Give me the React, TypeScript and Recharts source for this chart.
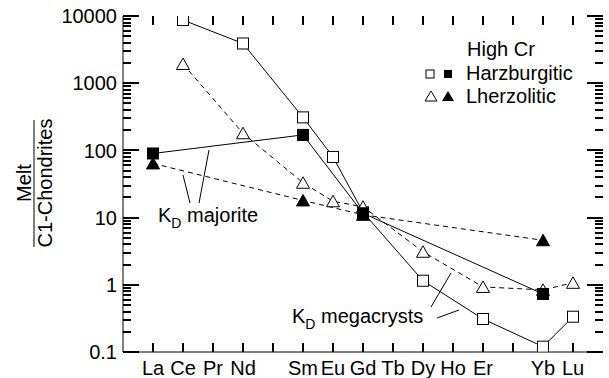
import React from 'react';
import { LineChart, Line, XAxis, YAxis, Customized } from 'recharts';

const FONT = '"Liberation Sans", Arial, Helvetica, sans-serif';

// REE order, Pm and Tm kept as empty slots
const elements = ['La', 'Ce', 'Pr', 'Nd', 'Pm', 'Sm', 'Eu', 'Gd', 'Tb', 'Dy', 'Ho', 'Er', 'Tm', 'Yb', 'Lu'];
const tickLabels = ['La', 'Ce', 'Pr', 'Nd', '', 'Sm', 'Eu', 'Gd', 'Tb', 'Dy', 'Ho', 'Er', '', 'Yb', 'Lu'];

// melt / C1 chondrite, null = not plotted
const harzMegacrysts = [null, 8700, null, 3900, null, 310, 80, 12, null, 1.15, null, 0.31, null, 0.12, 0.335];
const lherzMegacrysts = [null, 1930, null, 180, null, 33, 17.5, 14.5, null, 3.1, null, 0.93, null, 0.84, 1.07];
const harzMajorite = [90, null, null, null, null, 170, null, 11.6, null, null, null, null, null, 0.73, null];
const lherzMajorite = [64, null, null, null, null, 18, null, 11, null, null, null, null, null, 4.6, null];

const majorTicks = [0.1, 1, 10, 100, 1000, 10000];
const minorTicks: number[] = [];
[0.1, 1, 10, 100, 1000].forEach((d) => {
  for (let k = 2; k < 10; k++) minorTicks.push(+(d * k).toPrecision(3));
});
const xTicks = elements.map((_, i) => i);

const X_DOMAIN = [-1, 15];
const Y_DOMAIN = [0.1, 10000];
const MARGIN = { top: 16, right: 6, bottom: 0, left: 0 };
const Y_AXIS_W = 123;
const X_AXIS_H = 26;
const W = 609;
const H = 378;
const PLOT_L = MARGIN.left + Y_AXIS_W;
const PLOT_T = MARGIN.top;
const PLOT_W = W - PLOT_L - MARGIN.right;
const PLOT_H = H - PLOT_T - MARGIN.bottom - X_AXIS_H;

const data = elements.map((el, i) => ({
  x: i,
  el,
  harzOpen: harzMegacrysts[i],
  lherzOpen: lherzMegacrysts[i],
  harzFill: harzMajorite[i],
  lherzFill: lherzMajorite[i],
}));

const tickFont = { fontSize: 20, fontFamily: FONT, fill: '#000' };
const black = { stroke: '#000' };

const marker = (shape: 'sq' | 'tri', filled: boolean) => (p: any) => {
  const key = `m-${shape}-${filled}-${p.index}`;
  if (p.value == null || p.cy == null || p.cx == null) return <g key={key} />;
  const fill = filled ? '#000' : '#fff';
  if (shape === 'sq') {
    return <rect key={key} x={p.cx - 5.5} y={p.cy - 5.5} width={11} height={11} fill={fill} stroke="#000" />;
  }
  const pts = `${p.cx},${p.cy - 6} ${p.cx + 6.5},${p.cy + 5.5} ${p.cx - 6.5},${p.cy + 5.5}`;
  return <polygon key={key} points={pts} fill={fill} stroke="#000" />;
};

// same linear / log mapping as the axes, used for the inward frame ticks
const px = (v: number) => PLOT_L + ((v - X_DOMAIN[0]) / (X_DOMAIN[1] - X_DOMAIN[0])) * PLOT_W;
const py = (v: number) =>
  PLOT_T + (Math.log10(Y_DOMAIN[1] / v) / Math.log10(Y_DOMAIN[1] / Y_DOMAIN[0])) * PLOT_H;

const TICK_W = 2;

const FrameTicks = () => {
  const R = PLOT_L + PLOT_W;
  const B = PLOT_T + PLOT_H;
  return (
    <g>
      {majorTicks.concat(minorTicks).map((v) => {
        const len = majorTicks.includes(v) ? 16 : 8;
        const y = Math.round(py(v));
        return (
          <g key={`y-${v}`}>
            <path d={`M${PLOT_L},${y}H${PLOT_L + len}`} stroke="#000" strokeWidth={TICK_W} fill="none" />
            <path d={`M${R},${y}H${R - len}`} stroke="#000" strokeWidth={TICK_W} fill="none" />
          </g>
        );
      })}
      {xTicks.map((i) => {
        const x = Math.round(px(i));
        return (
          <g key={`x-${i}`}>
            <path d={`M${x},${B}V${B - 9}`} stroke="#000" strokeWidth={TICK_W} fill="none" />
            <path d={`M${x},${PLOT_T}V${PLOT_T + 9}`} stroke="#000" strokeWidth={TICK_W} fill="none" />
          </g>
        );
      })}
    </g>
  );
};

const Notes = () => (
  <g fontFamily={FONT} fill="#000">
    {/* legend */}
    <text x={467} y={56} fontSize={20}>High Cr</text>
    <rect x={426} y={70} width={8} height={8} fill="#fff" stroke="#000" />
    <rect x={444} y={70} width={8} height={8} fill="#000" />
    <text x={466} y={80} fontSize={20}>Harzburgitic</text>
    <polygon points="431,91 437,101 425,101" fill="#fff" stroke="#000" />
    <polygon points="448,91 454,101 442,101" fill="#000" />
    <text x={466} y={103} fontSize={20}>Lherzolitic</text>

    {/* K_D majorite */}
    <line x1={183} y1={175} x2={190} y2={203} stroke="#000" />
    <line x1={209} y1={150} x2={199} y2={203} stroke="#000" />
    <text x={158} y={222} fontSize={20}>
      K<tspan fontSize={14} dy={6}>D</tspan>
      <tspan dy={-6}> majorite</tspan>
    </text>

    {/* K_D megacrysts */}
    <line x1={431} y1={307} x2={451} y2={273} stroke="#000" />
    <line x1={437} y1={318} x2={459} y2={310} stroke="#000" />
    <text x={292} y={323} fontSize={20}>
      K<tspan fontSize={14} dy={6}>D</tspan>
      <tspan dy={-6}> megacrysts</tspan>
    </text>

    {/* y-axis title */}
    <text transform="translate(31,183) rotate(-90)" textAnchor="middle" fontSize={20}>Melt</text>
    <line x1={34} y1={120} x2={34} y2={247} stroke="#000" />
    <text transform="translate(52,183) rotate(-90)" textAnchor="middle" fontSize={20}>C1-Chondrites</text>
  </g>
);

export default function App() {
  return (
    <div style={{ position: 'fixed', left: 0, top: 0, background: '#fff' }}>
      <LineChart width={W} height={H} data={data} margin={MARGIN}>
        <XAxis xAxisId="t" orientation="top" mirror dataKey="x" type="number" domain={X_DOMAIN} ticks={xTicks} height={0} tick={false} tickLine={false} axisLine={black} allowDataOverflow />
        <YAxis yAxisId="r" orientation="right" mirror scale="log" domain={Y_DOMAIN} ticks={majorTicks} width={0} tick={false} tickLine={false} axisLine={black} allowDataOverflow />
        <XAxis
          xAxisId="b"
          dataKey="x"
          type="number"
          domain={X_DOMAIN}
          ticks={xTicks}
          interval={0}
          height={X_AXIS_H}
          tickSize={0}
          tickMargin={9}
          tickLine={false}
          axisLine={black}
          tick={tickFont}
          tickFormatter={(v: number) => tickLabels[v] ?? ''}
          allowDataOverflow
        />
        <YAxis
          yAxisId="l"
          scale="log"
          domain={Y_DOMAIN}
          ticks={majorTicks}
          interval={0}
          width={Y_AXIS_W}
          tickSize={0}
          tickMargin={6}
          tickLine={false}
          axisLine={black}
          tick={tickFont}
          tickFormatter={(v: number) => (v < 1 ? String(v) : String(Math.round(v)))}
          allowDataOverflow
        />

        <Line xAxisId="b" yAxisId="l" dataKey="harzOpen" type="linear" stroke="#000" strokeWidth={1} connectNulls dot={marker('sq', false)} isAnimationActive={false} />
        <Line xAxisId="b" yAxisId="l" dataKey="lherzOpen" type="linear" stroke="#000" strokeWidth={1} strokeDasharray="5 4" connectNulls dot={marker('tri', false)} isAnimationActive={false} />
        <Line xAxisId="b" yAxisId="l" dataKey="lherzFill" type="linear" stroke="#000" strokeWidth={1} strokeDasharray="5 4" connectNulls dot={marker('tri', true)} isAnimationActive={false} />
        <Line xAxisId="b" yAxisId="l" dataKey="harzFill" type="linear" stroke="#000" strokeWidth={1} connectNulls dot={marker('sq', true)} isAnimationActive={false} />
        <Customized component={Notes} />
        <Customized component={FrameTicks} />
      </LineChart>
    </div>
  );
}
